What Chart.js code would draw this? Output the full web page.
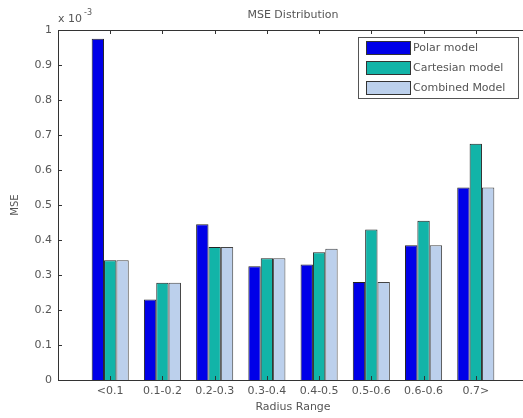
<!DOCTYPE html>
<html>
<head>
<meta charset="utf-8">
<script src="https://cdn.jsdelivr.net/npm/chart.js@4/dist/chart.umd.min.js"></script>
<style>
  html, body { margin: 0; padding: 0; background: #fff; overflow: hidden; }
  #clip { width: 523px; height: 418px; overflow: hidden; position: relative; }
  #myChart { position: absolute; left: 0; top: 0; width: 533px; height: 418px; }
</style>
</head>
<body>
<div id="clip"><canvas id="myChart" width="533" height="418"></canvas></div>
<script>
// values are in units of 1e-3
var categories = ['<0.1', '0.1-0.2', '0.2-0.3', '0.3-0.4', '0.4-0.5', '0.5-0.6', '0.6-0.6', '0.7>'];
var polar     = [0.975, 0.230, 0.445, 0.325, 0.330, 0.280, 0.385, 0.550];
var cartesian = [0.342, 0.278, 0.380, 0.348, 0.365, 0.430, 0.455, 0.675];
var combined  = [0.342, 0.278, 0.380, 0.348, 0.375, 0.280, 0.385, 0.550];
var yTicks = ['0', '0.1', '0.2', '0.3', '0.4', '0.5', '0.6', '0.7', '0.8', '0.9', '1'];

// empty slot on both sides, like the matlab xlim
var labels = [''].concat(categories, ['']);
function pad(arr) { return [null].concat(arr, [null]); }

var textColor = '#555';
var fontFam = '"DejaVu Sans", Arial, sans-serif';

var matlabFrame = {
  id: 'matlabFrame',
  afterDraw: function (chart) {
    var c = chart.ctx, a = chart.chartArea;
    var x = chart.scales.x, y = chart.scales.y;
    c.save();
    c.strokeStyle = '#333';
    c.lineWidth = 1;
    c.strokeRect(Math.round(a.left) + 0.5, Math.round(a.top) + 0.5, Math.round(a.right - a.left), Math.round(a.bottom - a.top));
    // inner tick marks
    c.beginPath();
    for (var i = 1; i <= categories.length; i++) {
      var px = Math.round(x.getPixelForValue(i)) + 0.5;
      c.moveTo(px, a.bottom); c.lineTo(px, a.bottom - 4);
      c.moveTo(px, a.top); c.lineTo(px, a.top + 4);
    }
    y.ticks.forEach(function (t) {
      var py = Math.round(y.getPixelForValue(t.value)) + 0.5;
      c.moveTo(a.left, py); c.lineTo(a.left + 4, py);
      c.moveTo(a.right, py); c.lineTo(a.right - 4, py);
    });
    c.stroke();

    // title and exponent
    c.fillStyle = textColor;
    c.font = '11px ' + fontFam;
    c.textAlign = 'center';
    c.textBaseline = 'middle';
    c.fillText('MSE Distribution', (a.left + a.right) / 2, 15);
    c.textAlign = 'left';
    c.fillText('x 10', a.left, 19);
    c.font = '8px ' + fontFam;
    c.fillText('-3', a.left + 26, 13);

    // legend box
    var lx = 358, ly = 37, lw = 160, lh = 61;
    c.fillStyle = '#fff';
    c.fillRect(lx, ly, lw, lh);
    c.strokeStyle = '#555';
    c.strokeRect(lx + 0.5, ly + 0.5, lw, lh);
    chart.data.datasets.forEach(function (ds, k) {
      var ry = 41 + k * 20;
      c.fillStyle = ds.backgroundColor;
      c.fillRect(lx + 8, ry, 44, 13);
      c.strokeStyle = '#333';
      c.strokeRect(lx + 8.5, ry + 0.5, 44, 13);
      c.fillStyle = textColor;
      c.font = '11px ' + fontFam;
      c.textBaseline = 'middle';
      c.fillText(ds.label, lx + 55, ry + 7);
    });
    c.restore();
  }
};

var ctx = document.getElementById('myChart');

var myChart = new Chart(ctx, {
  type: 'bar',
  data: {
    labels: labels,
    datasets: [{
      label: 'Polar model',
      data: pad(polar),
      backgroundColor: '#0000e8',
      borderColor: '#222',
      borderWidth: 1
    }, {
      label: 'Cartesian model',
      data: pad(cartesian),
      backgroundColor: '#12b4a8',
      borderColor: '#222',
      borderWidth: 1
    }, {
      label: 'Combined Model',
      data: pad(combined),
      backgroundColor: '#bcd0ec',
      borderColor: '#444',
      borderWidth: 1
    }]
  },
  options: {
    animation: false,
    responsive: false,
    maintainAspectRatio: false,
    devicePixelRatio: 1,
    layout: { padding: { top: 30, right: 2, left: 0, bottom: 0 } },
    datasets: {
      bar: { categoryPercentage: 0.71, barPercentage: 1.0 }
    },
    plugins: {
      legend: { display: false },
      title: { display: false },
      tooltip: { enabled: false }
    },
    scales: {
      x: {
        offset: false,
        grid: { display: false, drawTicks: false },
        border: { display: false },
        ticks: {
          autoSkip: false,
          maxRotation: 0,
          padding: 5,
          color: textColor,
          font: { family: fontFam, size: 11 }
        },
        title: {
          display: true,
          text: 'Radius Range',
          color: textColor,
          font: { family: fontFam, size: 11 },
          padding: { top: 2, bottom: 4 }
        },
        afterFit: function (s) { s.height = 38; }
      },
      y: {
        min: 0,
        max: 1,
        grid: { display: false, drawTicks: false },
        border: { display: false },
        ticks: {
          stepSize: 0.1,
          padding: 6,
          color: textColor,
          font: { family: fontFam, size: 11 },
          callback: function (v, i) { return yTicks[i]; }
        },
        title: {
          display: true,
          text: 'MSE',
          color: textColor,
          font: { family: fontFam, size: 10 },
          padding: { top: 9, bottom: 0 }
        },
        afterFit: function (s) { s.width = 58; }
      }
    }
  },
  plugins: [matlabFrame]
});
</script>
</body>
</html>
